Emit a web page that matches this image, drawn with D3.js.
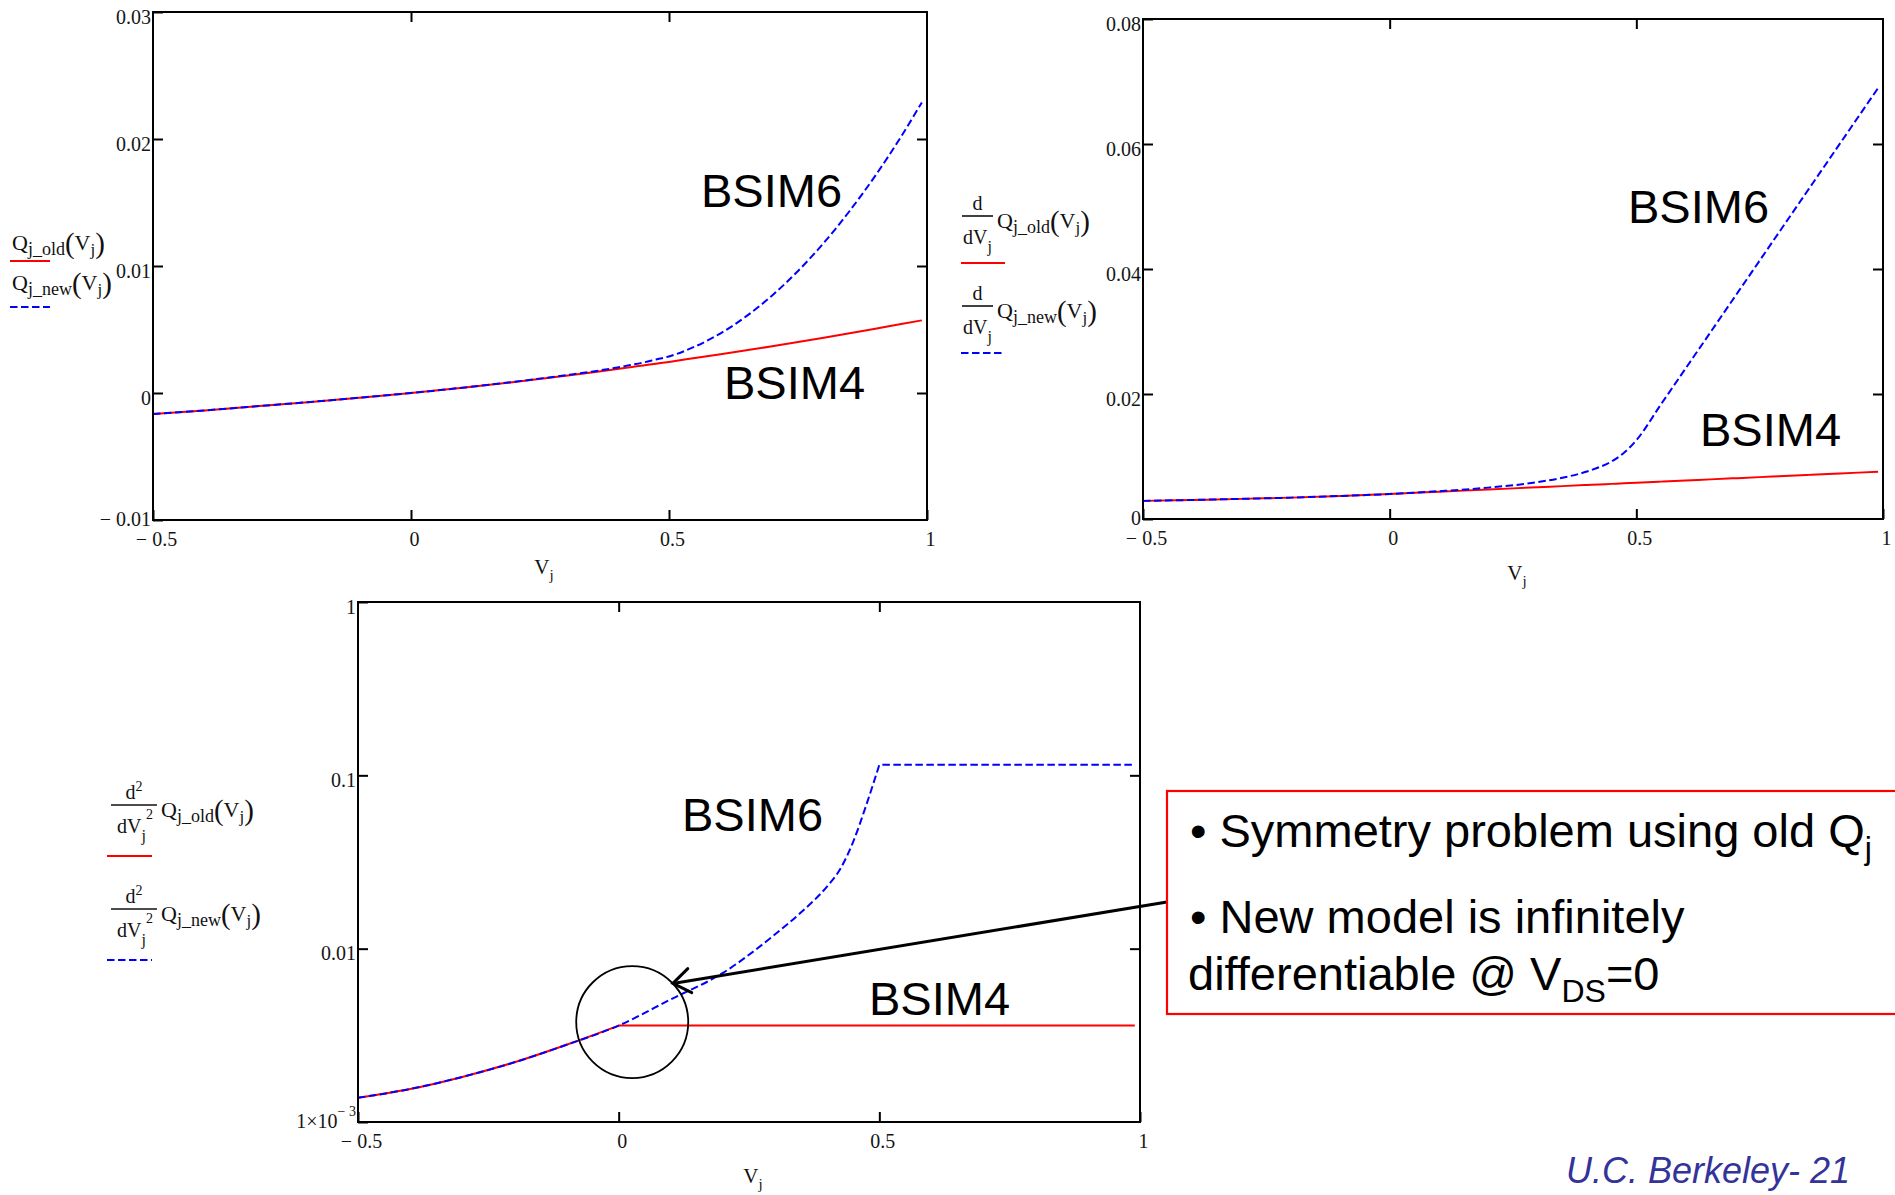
<!DOCTYPE html>
<html>
<head>
<meta charset="utf-8">
<title>Junction charge: BSIM4 vs BSIM6</title>
<script src="https://cdn.jsdelivr.net/npm/d3@7"></script>
<style>
  html, body { margin: 0; padding: 0; background: #fff; }
  svg { display: block; }
  .mt { font-family: "Liberation Serif", "Times New Roman", serif; fill: #111; }
  .tick-label { font-family: "Liberation Serif", "Times New Roman", serif; font-size: 20px; fill: #151515; }
  .big { font-family: "Liberation Sans", Arial, sans-serif; fill: #000; }
</style>
</head>
<body>
<svg id="chart" width="1895" height="1195"></svg>
<script>
// ---- data -------------------------------------------------------------
// junction voltage samples (V)
const vj = [-0.5, -0.4, -0.3, -0.2, -0.1, 0, 0.1, 0.2, 0.3, 0.35, 0.4, 0.425, 0.45, 0.475,
            0.5, 0.55, 0.6, 0.65, 0.7, 0.75, 0.8, 0.85, 0.9, 0.95, 0.99];

// junction charge Qj(Vj)
const qOld = [-0.00166, -0.00137, -0.00105, -0.00072, -0.00037, 0, 0.00042, 0.00087, 0.00136,
              0.00162, 0.00189, 0.00203, 0.00217, 0.00231, 0.00245, 0.00275, 0.00305, 0.00336,
              0.00368, 0.00401, 0.00435, 0.0047, 0.00506, 0.00543, 0.00572];
const qNew = [-0.00166, -0.00137, -0.00105, -0.00072, -0.00037, 0, 0.00042, 0.00088, 0.0014,
              0.00168, 0.00201, 0.0022, 0.0024, 0.00264, 0.00288, 0.00365, 0.0047, 0.00605,
              0.00768, 0.00961, 0.01182, 0.01433, 0.01712, 0.0202, 0.02288];

// first derivative dQj/dVj
const cOld = [0.0029, 0.00305, 0.00322, 0.00342, 0.00368, 0.004, 0.00436, 0.00472, 0.00508,
              0.00526, 0.00544, 0.00553, 0.00562, 0.00571, 0.0058, 0.00598, 0.00616, 0.00634,
              0.00652, 0.0067, 0.00688, 0.00706, 0.00724, 0.00742, 0.00756];
const cNew = [0.0029, 0.00305, 0.00322, 0.00342, 0.00368, 0.004, 0.00445, 0.00502, 0.0059,
              0.0066, 0.0076, 0.0083, 0.0092, 0.0106, 0.0126, 0.01835, 0.0241, 0.02985,
              0.0356, 0.04135, 0.0471, 0.05285, 0.0586, 0.06435, 0.06895];

// second derivative d2Qj/dVj2 (log axis)
const d2Old = [0.00138, 0.00155, 0.00182, 0.00221, 0.00279, 0.0036, 0.0036, 0.0036, 0.0036,
               0.0036, 0.0036, 0.0036, 0.0036, 0.0036, 0.0036, 0.0036, 0.0036, 0.0036,
               0.0036, 0.0036, 0.0036, 0.0036, 0.0036, 0.0036, 0.0036];
const d2New = [0.00138, 0.00155, 0.00182, 0.00221, 0.00279, 0.0036, 0.0051, 0.00725, 0.0121,
               0.0162, 0.0229, 0.0288, 0.0415, 0.0675, 0.115, 0.115, 0.115, 0.115,
               0.115, 0.115, 0.115, 0.115, 0.115, 0.115, 0.115];

// axes
const vjDomain = [-0.5, 1];
const xTicks = [-0.5, 0, 0.5, 1];
const xTickLabels = ["\u2212 0.5", "0", "0.5", "1"];
const qDomain = [-0.01, 0.03];
const qTicks = [-0.01, 0, 0.01, 0.02, 0.03];
const qTickLabels = ["\u2212 0.01", "0", "0.01", "0.02", "0.03"];
const cDomain = [0, 0.08];
const cTicks = [0, 0.02, 0.04, 0.06, 0.08];
const cTickLabels = ["0", "0.02", "0.04", "0.06", "0.08"];
const d2Domain = [0.001, 1];
const d2Ticks = [0.001, 0.01, 0.1, 1];
const d2TickLabels = ["1\u00d710^\u2212 3", "0.01", "0.1", "1"];

const modelNames = ["BSIM6", "BSIM4"];
const seriesNames = ["old", "new"];
const noteLines = [
  ["\u2022 Symmetry problem using old Q", "j", ""],
  ["\u2022 New model is infinitely", "", ""],
  ["differentiable @ V", "DS", "=0"]
];
const footer = "U.C. Berkeley- 21";

// ---- layout -----------------------------------------------------------
const RED = "#ff0000", BLUE = "#0000ff", DASH = "7.5,3.5";
const svg = d3.select("#chart");
svg.append("rect").attr("width", 1895).attr("height", 1195).attr("fill", "#fff");

const panels = [
  { id: "q", left: 153, right: 927, top: 12, bottom: 520, log: false,
    domain: qDomain, ticks: qTicks, labels: qTickLabels, old: qOld, neu: qNew,
    titleY: 574, names: [[701, 207], [724, 399]] },
  { id: "c", left: 1143, right: 1883, top: 19, bottom: 519, log: false,
    domain: cDomain, ticks: cTicks, labels: cTickLabels, old: cOld, neu: cNew,
    titleY: 580, names: [[1628, 223], [1700, 446]] },
  { id: "d2", left: 358, right: 1140, top: 602, bottom: 1122, log: true,
    domain: d2Domain, ticks: d2Ticks, labels: d2TickLabels, old: d2Old, neu: d2New,
    titleY: 1183, names: [[682, 831], [869, 1015]] }
];

// label text with optional "^superscript"
function writeLabel(textSel, label) {
  const parts = label.split("^");
  textSel.text(null);
  textSel.append("tspan").text(parts[0]);
  if (parts[1]) textSel.append("tspan").attr("dy", -12).attr("font-size", 14).text(parts[1]);
}

// smooth rising part, straight flat tail
function drawSeries(g, x, y, values, color, dash) {
  const pts = vj.map((v, i) => [v, values[i]]);
  const last = values[values.length - 1];
  let k = values.length - 1;
  while (k > 0 && values[k - 1] === last) k--;
  const smooth = d3.line().x(d => x(d[0])).y(d => y(d[1])).curve(d3.curveMonotoneX);
  const straight = d3.line().x(d => x(d[0])).y(d => y(d[1]));
  let path = smooth(pts.slice(0, k + 1));
  if (k < pts.length - 1) path += straight(pts.slice(k)).replace(/^M/, "L");
  g.append("path").attr("d", path).attr("fill", "none")
    .attr("stroke", color).attr("stroke-width", 2)
    .attr("stroke-dasharray", dash)
    .attr("stroke-linejoin", "round");
}

function styleAxis(sel) {
  sel.attr("font-family", null).attr("font-size", null);
  sel.select(".domain").remove();
  sel.selectAll(".tick line").attr("stroke", "#000").attr("stroke-width", 2);
  sel.selectAll(".tick text").attr("class", "tick-label");
}

function drawPanel(p) {
  const g = svg.append("g").attr("class", "panel-" + p.id);
  const x = d3.scaleLinear().domain(vjDomain).range([p.left, p.right]);
  const y = (p.log ? d3.scaleLog() : d3.scaleLinear()).domain(p.domain).range([p.bottom, p.top]);

  drawSeries(g, x, y, p.old, RED, null);
  drawSeries(g, x, y, p.neu, BLUE, DASH);

  g.append("rect")
    .attr("x", p.left).attr("y", p.top)
    .attr("width", p.right - p.left).attr("height", p.bottom - p.top)
    .attr("fill", "none").attr("stroke", "#000").attr("stroke-width", 2);

  const bottom = g.append("g").attr("transform", `translate(0,${p.bottom})`)
    .call(d3.axisBottom(x).tickValues(xTicks)
      .tickFormat(v => xTickLabels[xTicks.indexOf(v)]).tickSize(-10).tickPadding(12));
  styleAxis(bottom);
  bottom.selectAll(".tick text").attr("dx", 3);

  g.append("g").attr("transform", `translate(0,${p.top})`)
    .call(d3.axisTop(x).tickValues(xTicks.slice(1, -1)).tickFormat("").tickSize(-10))
    .call(styleAxis);

  const left = g.append("g").attr("transform", `translate(${p.left},0)`)
    .call(d3.axisLeft(y).tickValues(p.ticks)
      .tickFormat(v => p.labels[p.ticks.indexOf(v)]).tickSize(-10).tickPadding(2));
  styleAxis(left);
  left.selectAll(".tick text")
    .attr("dy", (v, i) => (i === 0 ? "0.25em" : "0.55em"))   // lowest label sits a little higher
    .each(function (v) { writeLabel(d3.select(this), p.labels[p.ticks.indexOf(v)]); });

  g.append("g").attr("transform", `translate(${p.right},0)`)
    .call(d3.axisRight(y).tickValues(p.ticks.slice(1, -1)).tickFormat("").tickSize(-10))
    .call(styleAxis);

  // axis title V_j
  const t = g.append("text").attr("class", "mt").attr("font-size", 21)
    .attr("x", (p.left + p.right) / 2 + 4).attr("y", p.titleY).attr("text-anchor", "middle");
  t.append("tspan").text("V");
  t.append("tspan").attr("font-size", 15).attr("dy", 6).text("j");

  // model names
  modelNames.forEach((name, i) => {
    g.append("text").attr("class", "big").attr("font-size", 47)
      .attr("x", p.names[i][0]).attr("y", p.names[i][1]).text(name);
  });
  return { g, x, y };
}

const built = panels.map(drawPanel);

// ---- legends ----------------------------------------------------------
function qText(g, x, y, sub) {
  const t = g.append("text").attr("class", "mt").attr("x", x).attr("y", y).attr("font-size", 22);
  t.append("tspan").text("Q");
  t.append("tspan").attr("font-size", 18).attr("dy", 5).text("j_" + sub);
  t.append("tspan").attr("font-size", 29).attr("dy", -2).text("(");
  t.append("tspan").attr("dy", -3).text("V");
  t.append("tspan").attr("font-size", 17).attr("dy", 5).text("j");
  t.append("tspan").attr("font-size", 29).attr("dy", -2).text(")");
}

function fraction(g, bx, by, bw, order) {
  g.append("line").attr("x1", bx).attr("x2", bx + bw).attr("y1", by).attr("y2", by)
    .attr("stroke", "#111").attr("stroke-width", 1.6);
  const num = g.append("text").attr("class", "mt").attr("font-size", 20)
    .attr("x", bx + bw / 2).attr("y", by - 6).attr("text-anchor", "middle");
  num.append("tspan").text("d");
  if (order > 1) num.append("tspan").attr("font-size", 14).attr("dy", -8).text(order);
  const den = g.append("text").attr("class", "mt").attr("font-size", 20)
    .attr("x", bx + (order > 1 ? 6 : 1)).attr("y", by + 28);
  den.append("tspan").text("dV");
  den.append("tspan").attr("font-size", 16).attr("dy", 8).text("j");
  if (order > 1) den.append("tspan").attr("font-size", 14).attr("dy", -22).text(order);
}

function key(g, x1, x2, y, color, dash) {
  g.append("line").attr("x1", x1).attr("x2", x2).attr("y1", y).attr("y2", y)
    .attr("stroke", color).attr("stroke-width", 2).attr("stroke-dasharray", dash);
}

const legend = svg.append("g").attr("class", "legends");
const colors = [RED, BLUE], dashes = [null, DASH];

// Q(V)
seriesNames.forEach((s, i) => {
  qText(legend, 12, 250 + i * 40, s);
  key(legend, 10, 50, 261 + i * 46, colors[i], dashes[i]);
});
// dQ/dV
seriesNames.forEach((s, i) => {
  const by = 216 + i * 90;
  fraction(legend, 962, by, 31, 1);
  qText(legend, 997, by + 12, s);
  key(legend, 961, 1005, by + 47, colors[i], dashes[i]);
});
// d2Q/dV2
seriesNames.forEach((s, i) => {
  const by = 805 + i * 104;
  fraction(legend, 111, by, 46, 2);
  qText(legend, 161, by + 12, s);
  key(legend, 107, 152, by + 51, colors[i], dashes[i]);
});

// ---- annotation -------------------------------------------------------
const p3 = built[2];
const ann = svg.append("g").attr("class", "annotation");
ann.append("circle")
  .attr("cx", p3.x(0.026)).attr("cy", p3.y(0.00377)).attr("r", 56)
  .attr("fill", "none").attr("stroke", "#000").attr("stroke-width", 1.8);

const box = { x: 1167, y: 791, w: 760, h: 223 };
const tail = [box.x, 902];
const tip = [p3.x(0.104), p3.y(0.0063)];
ann.append("line").attr("x1", tail[0]).attr("y1", tail[1]).attr("x2", tip[0]).attr("y2", tip[1])
  .attr("stroke", "#000").attr("stroke-width", 3);
const ang = Math.atan2(tail[1] - tip[1], tail[0] - tip[0]);
const head = [ang - 0.62, ang + 0.62].map(a => [tip[0] + 21 * Math.cos(a), tip[1] + 21 * Math.sin(a)]);
ann.append("path")
  .attr("d", `M${head[0][0]},${head[0][1]}L${tip[0]},${tip[1]}L${head[1][0]},${head[1][1]}`)
  .attr("fill", "none").attr("stroke", "#000").attr("stroke-width", 3)
  .attr("stroke-linejoin", "miter").attr("stroke-linecap", "round");

ann.append("rect").attr("x", box.x).attr("y", box.y).attr("width", box.w).attr("height", box.h)
  .attr("fill", "none").attr("stroke", RED).attr("stroke-width", 2.2);

const noteX = [1190, 1190, 1188];
const noteY = [847, 933, 990];
noteLines.forEach((ln, i) => {
  const t = ann.append("text").attr("class", "big").attr("font-size", 47)
    .attr("x", noteX[i]).attr("y", noteY[i]);
  t.append("tspan").text(ln[0]);
  if (ln[1]) t.append("tspan").attr("font-size", 32).attr("dy", 12).text(ln[1]);
  if (ln[2]) t.append("tspan").attr("dy", -12).text(ln[2]);
});

svg.append("text").attr("x", 1566).attr("y", 1183)
  .attr("font-family", "\"Liberation Sans\", Arial, sans-serif")
  .attr("font-style", "italic").attr("font-size", 36).attr("fill", "#333399")
  .text(footer);
</script>
</body>
</html>
